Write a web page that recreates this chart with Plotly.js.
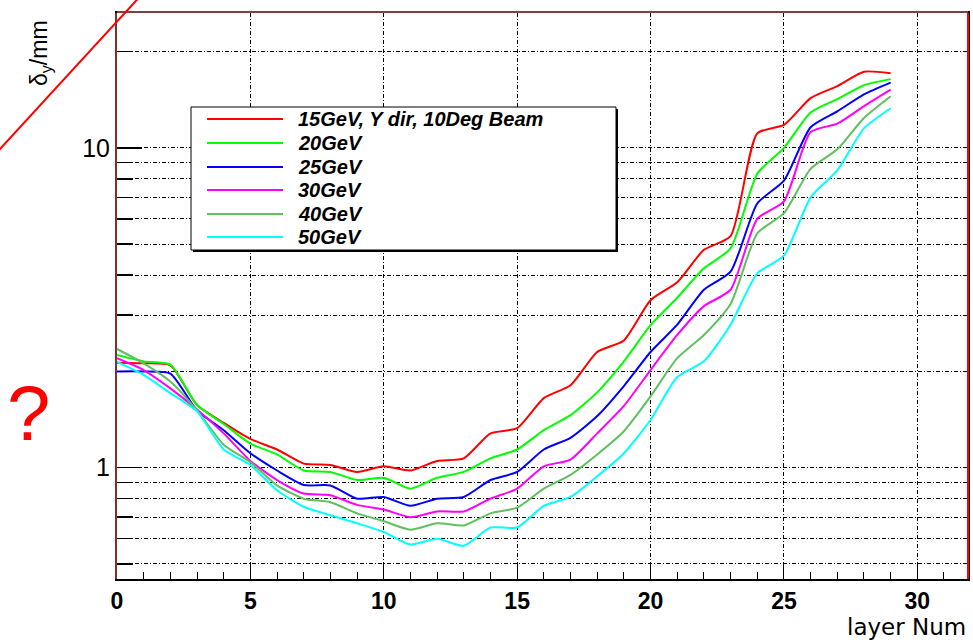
<!DOCTYPE html>
<html>
<head>
<meta charset="utf-8">
<script src="https://cdn.plot.ly/plotly-3.0.1.min.js"></script>
<style>html,body{margin:0;padding:0;background:#fff;}#chart{width:973px;height:643px;}</style>
</head>
<body>
<div id="chart"></div>
<script>
// ---- data ----
const layers = [0,1,2,3,4,5,6,7,8,9,10,11,12,13,14,15,16,17,18,19,20,21,22,23,24,25,26,27,28,29];
const names = ["15GeV, Y dir, 10Deg Beam","20GeV","25GeV","30GeV","40GeV","50GeV"];
const colors = ["#ff0000","#00ff00","#0000ff","#ff00ff","#60c060","#00ffff"];
const dy15 = [2.13,2.12,2.09,1.57,1.38,1.23,1.14,1.03,1.02,0.97,1.01,0.98,1.05,1.07,1.28,1.33,1.65,1.81,2.30,2.50,3.34,3.80,4.80,5.30,11.1,11.8,14.3,15.6,17.3,17.1];
const dy20 = [2.25,2.15,2.10,1.57,1.37,1.19,1.10,0.98,0.97,0.915,0.93,0.86,0.93,0.97,1.07,1.14,1.31,1.46,1.72,2.15,2.79,3.40,4.20,4.85,8.30,10.0,12.9,14.2,15.7,16.4];
const dy25 = [2.00,2.00,1.97,1.51,1.31,1.11,0.98,0.883,0.88,0.80,0.81,0.76,0.80,0.81,0.915,0.97,1.14,1.24,1.45,1.80,2.30,2.80,3.60,4.10,6.70,7.90,11.6,13.0,14.7,16.0];
const dy30 = [2.20,2.02,1.77,1.52,1.28,1.05,0.915,0.83,0.82,0.765,0.74,0.70,0.73,0.73,0.80,0.86,1.01,1.06,1.28,1.56,2.02,2.60,3.20,3.60,6.00,6.80,11.2,11.9,13.5,15.2];
const dy40 = [2.35,2.12,1.86,1.51,1.18,1.04,0.88,0.80,0.78,0.72,0.68,0.64,0.67,0.66,0.72,0.75,0.86,0.95,1.10,1.30,1.67,2.20,2.60,3.25,5.40,6.25,8.60,9.90,12.4,14.5];
const dy50 = [2.14,1.95,1.71,1.50,1.14,1.02,0.85,0.755,0.71,0.67,0.63,0.575,0.60,0.57,0.65,0.65,0.76,0.81,0.94,1.11,1.41,1.92,2.15,2.80,4.05,4.60,7.00,8.50,11.5,13.3];
const series = [dy15, dy20, dy25, dy30, dy40, dy50];
const xTickVals = [0,5,10,15,20,25,30];
const yMajorVals = [1,10];
const yMajorText = ["1","10"];
const yMinorVals = [0.5,0.6,0.7,0.8,0.9,2,3,4,5,6,7,8,9,20];

// ---- geometry helpers (pixel -> paper) ----
const W = 973, H = 643, ML = 117, MR = 5, MT = 13, MB = 64;
const PW = W - ML - MR, PH = H - MT - MB;
const px = v => (v - ML) / PW;
const py = v => (H - MB - v) / PH;

const traces = series.map((ys, i) => ({
  type: "scatter", mode: "lines", x: layers, y: ys, name: names[i],
  line: {color: colors[i], width: 2, shape: "spline", smoothing: 0.6},
  showlegend: false, hoverinfo: "skip"
}));

const dash = "4px,2px,1px,2px";
const shapes = [];
const annotations = [];

// legend box (with shadow)
shapes.push({type:"rect", xref:"paper", yref:"paper", x0:px(193), x1:px(618), y0:py(109), y1:py(252),
  fillcolor:"#000", line:{width:0}, layer:"above"});
shapes.push({type:"rect", xref:"paper", yref:"paper", x0:px(191), x1:px(616), y0:py(107), y1:py(250),
  fillcolor:"#fff", line:{color:"#000", width:1}, layer:"above"});
const rowY = [119, 143, 167, 190, 214, 237];
names.forEach((n, i) => {
  shapes.push({type:"line", xref:"paper", yref:"paper", x0:px(207), x1:px(283), y0:py(rowY[i]), y1:py(rowY[i]),
    line:{color:colors[i], width:2}, layer:"above"});
  annotations.push({xref:"paper", yref:"paper", x:px(296), y:py(rowY[i]), xanchor:"left", yanchor:"middle",
    text:"<b><i>"+n+"</i></b>", showarrow:false, font:{family:"Liberation Sans, Arial", size:20, color:"#000"}});
});

// red frame overlays and diagonal stroke
shapes.push({type:"line", xref:"paper", yref:"paper", x0:1, x1:1, y0:0, y1:1, line:{color:"#ff0000", width:2}, layer:"above"});
shapes.push({type:"line", xref:"paper", yref:"paper", x0:px(116), x1:px(116), y0:0, y1:1, line:{color:"#ff6060", width:1}, layer:"above"});
shapes.push({type:"line", xref:"paper", yref:"paper", x0:0, x1:1, y0:py(12), y1:py(12), line:{color:"#ff8080", width:1}, layer:"above"});
shapes.push({type:"line", xref:"paper", yref:"paper", x0:px(-5), y0:py(154.4), x1:px(145), y1:py(-9), line:{color:"#ff0000", width:2}, layer:"above"});

// titles and marks
annotations.push({xref:"paper", yref:"paper", x:px(41), y:py(53), xanchor:"center", yanchor:"middle", textangle:-90,
  text:"δ<sub>y</sub>/mm", showarrow:false, font:{family:"Liberation Sans, Arial", size:23, color:"#000"}});
annotations.push({xref:"paper", yref:"paper", x:1, y:py(627), xanchor:"right", yanchor:"middle",
  text:"layer Num", showarrow:false, font:{family:"DejaVu Sans", size:23, color:"#000"}});
annotations.push({xref:"paper", yref:"paper", x:px(28), y:py(413), xanchor:"center", yanchor:"middle",
  text:"?", showarrow:false, font:{family:"Liberation Sans, Arial", size:78, color:"#ff0000"}});

const layout = {
  width: W, height: H,
  margin: {l: ML, r: MR, t: MT, b: MB, pad: 0},
  paper_bgcolor: "#fff", plot_bgcolor: "#fff",
  showlegend: false,
  xaxis: {
    range: [0, 31.9], tickmode: "array", tickvals: xTickVals,
    ticks: "inside", ticklen: 15, tickwidth: 1, tickcolor: "#000",
    showline: true, linecolor: "#000", linewidth: 2, mirror: true,
    showgrid: true, gridcolor: "#000", gridwidth: 1, griddash: dash, zeroline: false,
    tickfont: {family: "Liberation Sans, Arial", size: 23, color: "#000", weight: "bold"},
    minor: {dtick: 1, ticks: "inside", ticklen: 7, tickwidth: 1, tickcolor: "#000", showgrid: false}
  },
  yaxis: {
    type: "log", range: [-0.348, 1.4216], tickmode: "array", tickvals: yMajorVals, ticktext: yMajorText,
    ticks: "inside", ticklen: 25, tickwidth: 1.5, tickcolor: "#000",
    showline: true, linecolor: "#000", linewidth: 2, mirror: true,
    showgrid: true, gridcolor: "#000", gridwidth: 1, griddash: dash, zeroline: false,
    tickfont: {family: "Liberation Sans, Arial", size: 25, color: "#000"},
    minor: {tickmode: "array", tickvals: yMinorVals, ticks: "inside", ticklen: 16, tickwidth: 1.5, tickcolor: "#000",
      showgrid: true, gridcolor: "#000", gridwidth: 1, griddash: dash}
  },
  shapes: shapes,
  annotations: annotations
};

Plotly.newPlot("chart", traces, layout, {staticPlot: true, displayModeBar: false});
</script>
</body>
</html>
